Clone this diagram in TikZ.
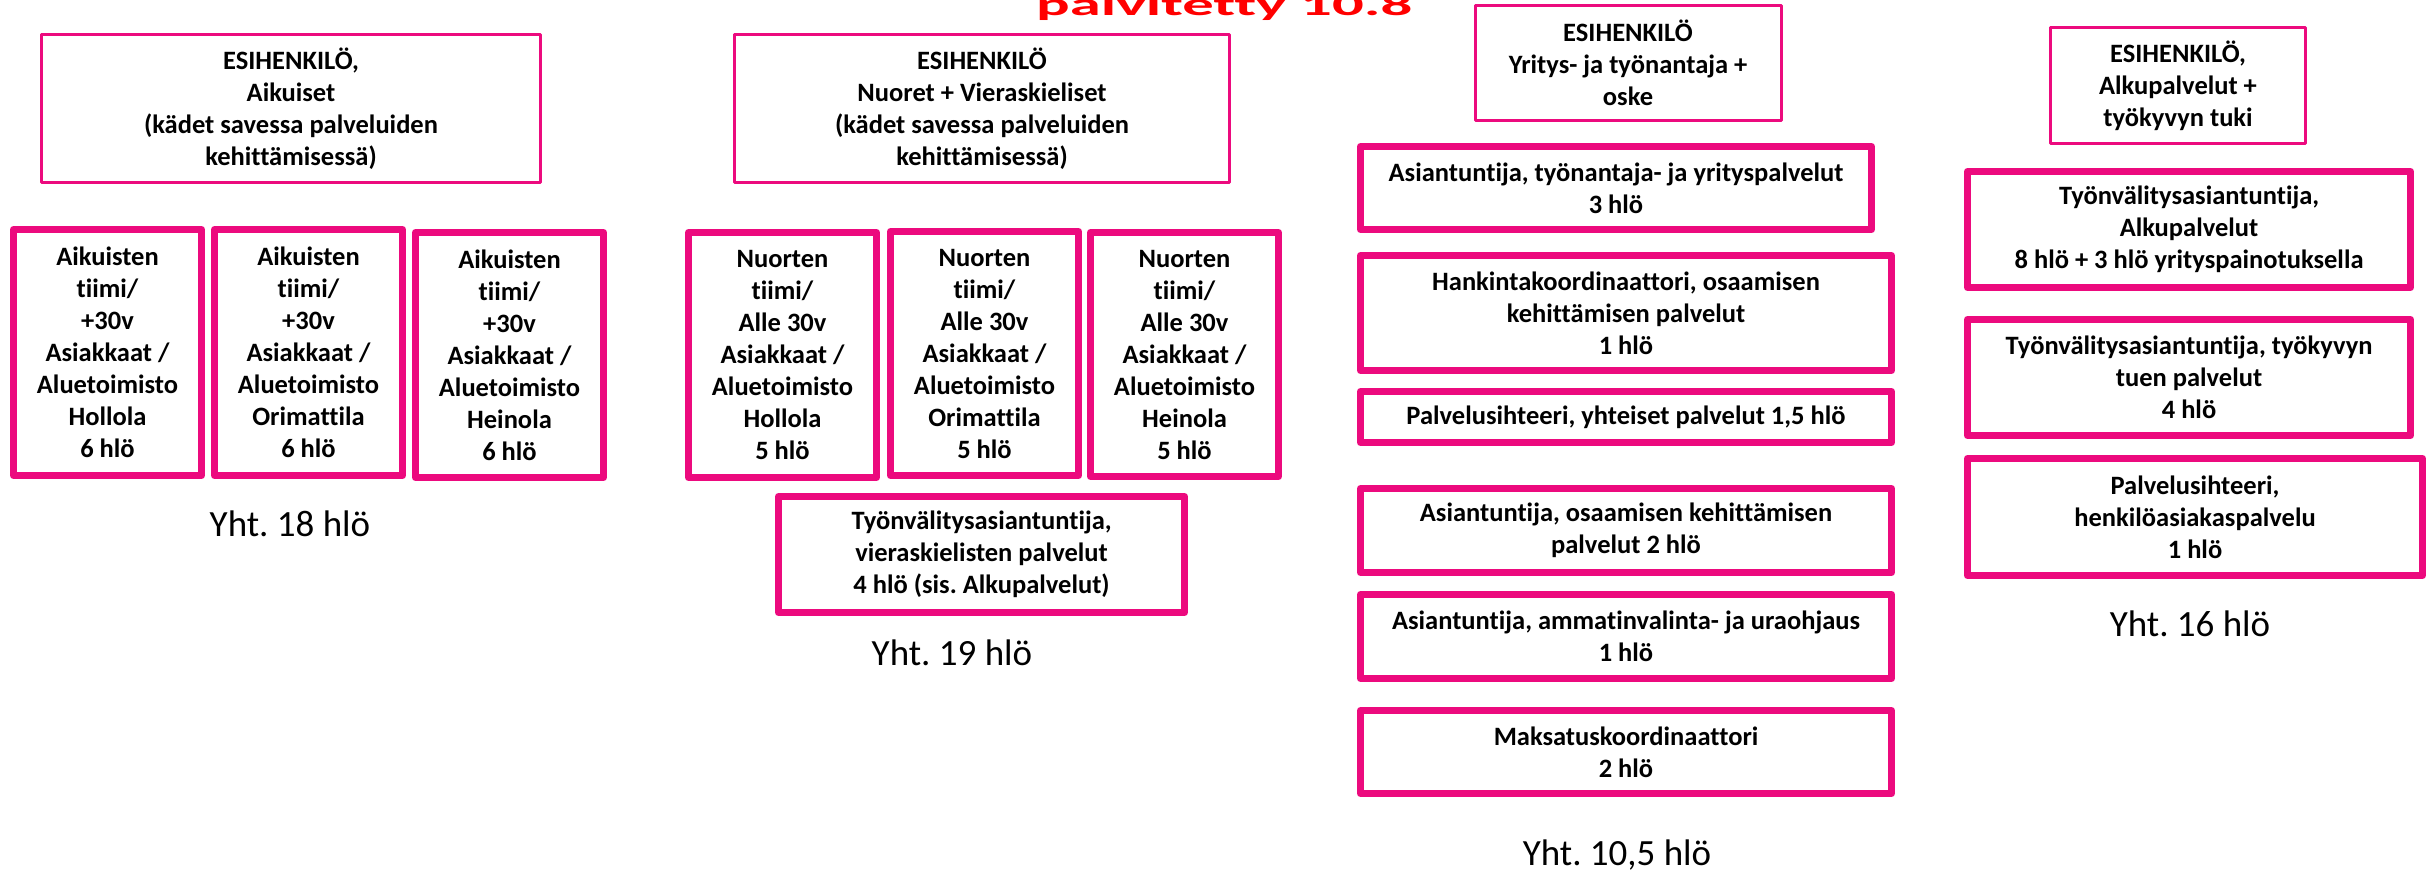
\documentclass[tikz,border=0pt]{standalone}
\usepackage{fontspec}
\setmainfont{Carlito}[Ligatures={NoCommon}]
\frenchspacing
\definecolor{pinkline}{RGB}{236,10,126}
\definecolor{titlered}{RGB}{255,0,0}
\begin{document}
\begin{tikzpicture}[x=1pt,y=-1pt,
  boxtext/.style={align=center, inner sep=0pt, font=\fontsize{26.5}{32}\selectfont\bfseries},
  thinbox/.style={boxtext, draw=pinkline, line width=3pt, line join=round},
  thickbox/.style={boxtext, draw=pinkline, line width=7pt, line join=round},
  yht/.style={inner sep=0pt, anchor=base, font=\fontsize{37}{44}\selectfont},
  titletext/.style={inner sep=0pt, anchor=base west, text=titlered, font=\fontsize{32}{38}\selectfont\bfseries}
]
\useasboundingbox (0,0) rectangle (2430,871);

% title (clipped at top edge)
\node[titletext] (title) at (1036,15) {\scalebox{1.96}[1.0]{päivitetty 10.8}};

% column 1
\node[thinbox, minimum width=499pt, minimum height=148pt] (t1) at (291,108.5)
  {ESIHENKILÖ,\\Aikuiset\\(kädet savessa palveluiden\\kehittämisessä)};
\node[thickbox, minimum width=188pt, minimum height=246pt] (a1) at (107.5,352.5)
  {Aikuisten\\tiimi/\\+30v\\Asiakkaat /\\Aluetoimisto\\Hollola\\6 hlö};
\node[thickbox, minimum width=188pt, minimum height=246pt] (a2) at (308.5,352.5)
  {Aikuisten\\tiimi/\\+30v\\Asiakkaat /\\Aluetoimisto\\Orimattila\\6 hlö};
\node[thickbox, minimum width=188pt, minimum height=245pt] (a3) at (509.5,355)
  {Aikuisten\\tiimi/\\+30v\\Asiakkaat /\\Aluetoimisto\\Heinola\\6 hlö};
\node[yht] (y18) at (290,536) {Yht. 18 hlö};

% column 2
\node[thinbox, minimum width=495pt, minimum height=148pt] (t2) at (982,108.5)
  {ESIHENKILÖ\\Nuoret + Vieraskieliset\\(kädet savessa palveluiden\\kehittämisessä)};
\node[thickbox, minimum width=188pt, minimum height=245pt] (n1) at (782.5,355)
  {Nuorten\\tiimi/\\Alle 30v\\Asiakkaat /\\Aluetoimisto\\Hollola\\5 hlö};
\node[thickbox, minimum width=188pt, minimum height=244pt] (n2) at (984.5,353.5)
  {Nuorten\\tiimi/\\Alle 30v\\Asiakkaat /\\Aluetoimisto\\Orimattila\\5 hlö};
\node[thickbox, minimum width=188pt, minimum height=244pt] (n3) at (1184.5,354.5)
  {Nuorten\\tiimi/\\Alle 30v\\Asiakkaat /\\Aluetoimisto\\Heinola\\5 hlö};
\node[thickbox, minimum width=406pt, minimum height=116pt] (nb) at (981.5,554.5)
  {Työnvälitysasiantuntija,\\vieraskielisten palvelut\\4 hlö (sis. Alkupalvelut)};
\node[yht] (y19) at (952,665) {Yht. 19 hlö};

% column 3
\node[thinbox, minimum width=306pt, minimum height=115pt] (t3) at (1628,63)
  {ESIHENKILÖ\\Yritys- ja työnantaja +\\oske};
\node[thickbox, minimum width=511pt, minimum height=83pt] (ra) at (1616,188)
  {Asiantuntija, työnantaja- ja yrityspalvelut\\3 hlö};
\node[thickbox, minimum width=531pt, minimum height=115pt] (rb) at (1626,313)
  {Hankintakoordinaattori, osaamisen\\kehittämisen palvelut\\1 hlö};
\node[thickbox, minimum width=531pt, minimum height=51pt] (rc) at (1626,417)
  {Palvelusihteeri, yhteiset palvelut 1,5 hlö};
\node[thickbox, minimum width=531pt, minimum height=84pt] (rd) at (1626,530.5)
  {Asiantuntija, osaamisen kehittämisen\\palvelut 2 hlö};
\node[thickbox, minimum width=531pt, minimum height=84pt] (re) at (1626,636.5)
  {Asiantuntija, ammatinvalinta- ja uraohjaus\\1 hlö};
\node[thickbox, minimum width=531pt, minimum height=83pt] (rf) at (1626,752)
  {Maksatuskoordinaattori\\2 hlö};
\node[yht] (y105) at (1617,865) {Yht. 10,5 hlö};

% column 4
\node[thinbox, minimum width=255pt, minimum height=116pt] (t4) at (2178,85.5)
  {ESIHENKILÖ,\\Alkupalvelut +\\työkyvyn tuki};
\node[thickbox, minimum width=443pt, minimum height=116pt] (g) at (2189,229.5)
  {Työnvälitysasiantuntija,\\Alkupalvelut\\8 hlö + 3 hlö yrityspainotuksella};
\node[thickbox, minimum width=443pt, minimum height=116pt] (h) at (2189,377.5)
  {Työnvälitysasiantuntija, työkyvyn\\tuen palvelut\\4 hlö};
\node[thickbox, minimum width=455pt, minimum height=117pt] (i) at (2195,517)
  {Palvelusihteeri,\\henkilöasiakaspalvelu\\1 hlö};
\node[yht] (y16) at (2190,636) {Yht. 16 hlö};
\end{tikzpicture}
\end{document}
